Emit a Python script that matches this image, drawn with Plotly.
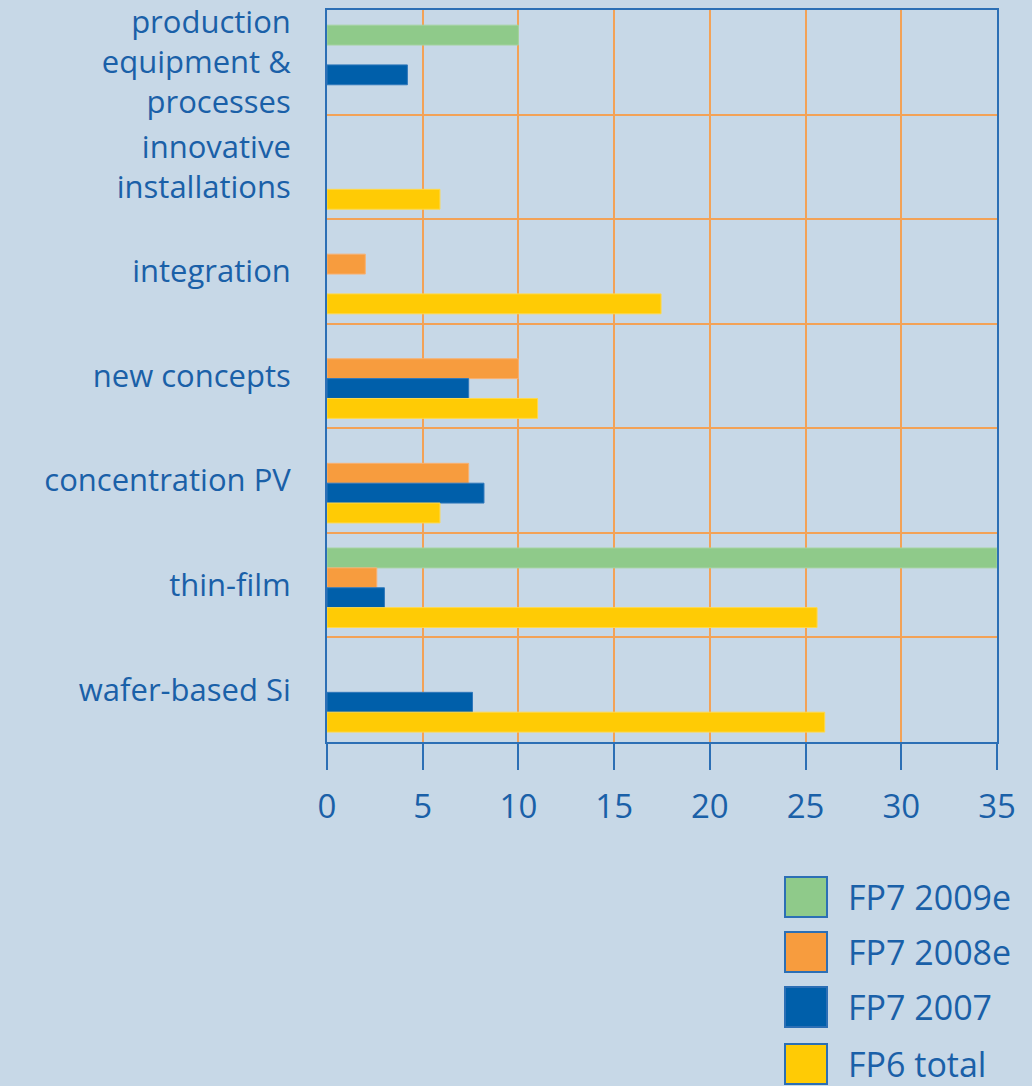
import plotly.graph_objects as go

categories = [
    "production<br>equipment &<br>processes",
    "innovative<br>installations",
    "integration",
    "new concepts",
    "concentration PV",
    "thin-film",
    "wafer-based Si",
]
series_names = ["FP7 2009e", "FP7 2008e", "FP7 2007", "FP6 total"]
fp7_2009e = [10.0, None, None, None, None, 35.0, None]
fp7_2008e = [None, None, 2.0, 10.0, 7.4, 2.6, None]
fp7_2007 = [4.2, None, None, 7.4, 8.2, 3.0, 7.6]
fp6_total = [None, 5.9, 17.45, 11.0, 5.9, 25.6, 26.0]
x_ticks = [0, 5, 10, 15, 20, 25, 30, 35]

series_values = [fp7_2009e, fp7_2008e, fp7_2007, fp6_total]
colors = ["#8fca8a", "#f79c3e", "#005faa", "#ffcb05"]
edge = ["#a5d3a0", "#f9b070", "#2f78bb", "#ffd84a"]
bar_width = 0.19
bar_offsets = [-0.355, -0.165, 0.025, 0.215]

BG = "#c7d8e7"
TXT = "#1a60a8"
AX = "#2c6fb5"
GRID = "#f3a257"
FONT = "Open Sans, Noto Sans, sans-serif"

W, H = 1032, 1086
L, R, T, B = 327, 997, 10, 742  # plot area in page pixels

fig = go.Figure()
for name, vals, c, e, off in zip(series_names, series_values, colors, edge, bar_offsets):
    fig.add_trace(go.Bar(
        name=name, y=categories, x=vals, orientation="h",
        width=bar_width, offset=off,
        marker=dict(color=c, line=dict(color=e, width=1)),
        showlegend=False,
    ))

fig.update_layout(
    width=W, height=H,
    margin=dict(l=L, r=W - R, t=T, b=H - B, pad=0, autoexpand=False),
    paper_bgcolor=BG, plot_bgcolor=BG,
    barmode="overlay",
    font=dict(family=FONT, color=TXT),
)
fig.update_xaxes(
    range=[0, 35], tickvals=x_ticks, ticktext=[str(v) for v in x_ticks],
    showgrid=True, gridcolor=GRID, gridwidth=2,
    showline=True, linecolor=AX, linewidth=2, mirror=True,
    ticks="outside", ticklen=26, tickwidth=2, tickcolor=AX,
    tickfont=dict(size=33, color=TXT, family=FONT),
    ticklabelstandoff=8, zeroline=False, automargin=False,
)
fig.update_yaxes(
    autorange="reversed", type="category", tickson="boundaries",
    showgrid=True, gridcolor=GRID, gridwidth=2,
    showline=True, linecolor=AX, linewidth=2, mirror=True,
    ticks="", tickfont=dict(size=31, color=TXT, family=FONT),
    ticklabelstandoff=28, automargin=False,
)

def px_x(px):
    return (px - L) / (R - L)

def px_y(py):
    return (B - py) / (B - T)

box_left, box_right = 785, 827
box_centers = [897, 952, 1007, 1064]
half = 20
for name, c, cy in zip(series_names, colors, box_centers):
    fig.add_shape(
        type="rect", xref="paper", yref="paper",
        x0=px_x(box_left), x1=px_x(box_right),
        y0=px_y(cy + half), y1=px_y(cy - half),
        fillcolor=c, line=dict(color=AX, width=2), layer="above",
    )
    fig.add_annotation(
        xref="paper", yref="paper", x=px_x(846), y=px_y(cy),
        text=name, showarrow=False, xanchor="left", yanchor="middle",
        font=dict(size=34, color=TXT, family=FONT),
    )

fig.write_html(
    "out.html",
    config={"displayModeBar": False},
    post_script="document.body.style.margin='0';"
                "document.body.style.background='" + BG + "';"
                "document.body.style.overflow='hidden';",
)
